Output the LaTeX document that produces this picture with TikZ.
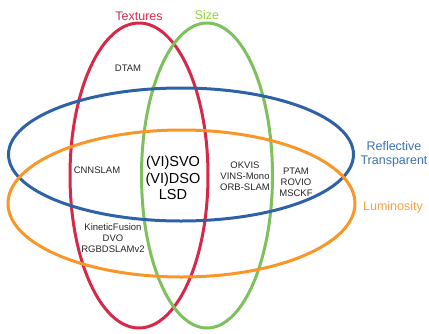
\documentclass[tikz,border=0pt]{standalone}
\usepackage{fontspec}
\setmainfont{Liberation Sans}
\usepackage{xcolor}
\usetikzlibrary{positioning}
\definecolor{texturecolor}{RGB}{214,40,72}
\definecolor{sizecolor}{RGB}{125,192,92}
\definecolor{sizetext}{RGB}{140,210,60}
\definecolor{reflcolor}{RGB}{46,98,166}
\definecolor{refltext}{RGB}{62,112,178}
\definecolor{lumcolor}{RGB}{250,150,40}
\definecolor{lumtext}{RGB}{250,160,60}

\begin{document}
\begin{tikzpicture}[
    x=1pt, y=-1pt,
    ring/.style={line width=3pt},
    setlabel/.style={font=\fontsize{12.5}{14}\selectfont, align=center},
    method/.style={font=\fontsize{9.5}{11}\selectfont, align=center, text=black!85},
    bigmethod/.style={font=\fontsize{14.5}{16.5}\selectfont, align=center}
]
\useasboundingbox (0,0) rectangle (429,333);

% Sets
\draw[ring, texturecolor] (139,175.5) ellipse (69 and 152.5);
\draw[ring, sizecolor] (207,175.5) ellipse (65.5 and 152.5);
\draw[ring, reflcolor] (181,154.5) ellipse (172.5 and 66.5);
\draw[ring, lumcolor] (181.5,203.5) ellipse (173.5 and 73.5);

% Set names
\node[setlabel, text=texturecolor] (textures) at (139,16) {Textures};
\node[setlabel, text=sizetext] (size) at (207,15) {Size};
\node[setlabel, text=refltext] (reflective) at (394,154) {Reflective\\Transparent};
\node[setlabel, text=lumtext] (luminosity) at (393,207.5) {Luminosity};

% Methods
\node[method] (dtam) at (128,68) {DTAM};
\node[method] (cnnslam) at (97,170) {CNNSLAM};
\node[bigmethod] (direct) at (173,178) {(VI)SVO\\(VI)DSO\\LSD};
\node[method] (okvis) at (245,176) {OKVIS\\VINS-Mono\\ORB-SLAM};
\node[method] (ptam) at (296,182) {PTAM\\ROVIO\\MSCKF};
\node[method] (kinect) at (113,238) {KineticFusion\\DVO\\RGBDSLAMv2};

\end{tikzpicture}
\end{document}
